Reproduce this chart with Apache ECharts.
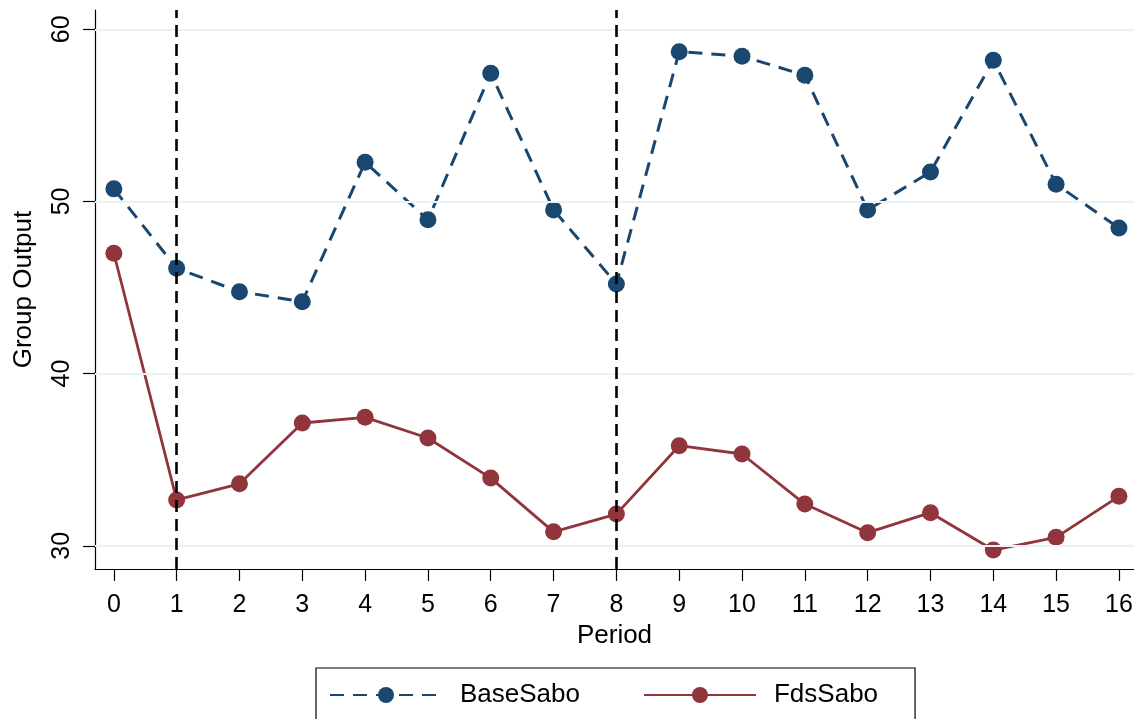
<!DOCTYPE html>
<html>
<head>
<meta charset="utf-8">
<style>
  html, body { margin: 0; padding: 0; background: #fff; }
  #chart { width: 1134px; height: 719px; }
</style>
<script src="https://cdn.jsdelivr.net/npm/echarts@6/dist/echarts.min.js"></script>
</head>
<body>
<div id="chart"></div>
<script>
// Group output by period for the two treatments
const periods = [0, 1, 2, 3, 4, 5, 6, 7, 8, 9, 10, 11, 12, 13, 14, 15, 16];
const baseSabo = [50.73, 46.12, 44.76, 44.18, 52.28, 48.93, 57.45, 49.51, 45.21, 58.70, 58.44, 57.33, 49.51, 51.71, 58.20, 51.00, 48.46];
const fdsSabo = [46.99, 32.66, 33.60, 37.13, 37.46, 36.26, 33.93, 30.81, 31.84, 35.81, 35.33, 32.42, 30.76, 31.92, 29.75, 30.49, 32.87];
const yTicks = [30, 40, 50, 60];
const phaseBreaks = [1, 8];

const seriesNames = ['BaseSabo', 'FdsSabo'];
const navy = '#1a476f';
const maroon = '#90353b';
const font = '"Liberation Sans", Arial, sans-serif';

const chart = echarts.init(document.getElementById('chart'), null, { renderer: 'canvas' });

const pairs = arr => periods.map((p, i) => [p, arr[i]]);

chart.setOption({
  animation: false,
  backgroundColor: '#fff',
  grid: { left: 95, right: 0, top: 10, bottom: 150, containLabel: false, outerBoundsMode: 'none' },
  xAxis: {
    type: 'value',
    min: -0.3,
    max: 16.24,
    name: 'Period',
    nameLocation: 'middle',
    nameGap: 50,
    nameTextStyle: { fontFamily: font, fontSize: 26, color: '#000' },
    axisLine: { show: true, onZero: false, lineStyle: { color: '#000', width: 1.2 } },
    axisTick: { show: true, length: 12, customValues: periods, lineStyle: { color: '#000', width: 1.2 } },
    axisLabel: { customValues: periods, margin: 24, fontFamily: font, fontSize: 25, color: '#000' },
    splitLine: { show: false }
  },
  yAxis: {
    type: 'value',
    min: 28.65,
    max: 61.12,
    name: 'Group Output',
    nameLocation: 'middle',
    nameGap: 58,
    nameRotate: 90,
    nameTextStyle: { fontFamily: font, fontSize: 26, color: '#000' },
    axisLine: { show: true, onZero: false, lineStyle: { color: '#000', width: 1.2 } },
    axisTick: { show: true, length: 12, customValues: yTicks, lineStyle: { color: '#000', width: 1.2 } },
    axisLabel: { customValues: yTicks, rotate: 90, margin: 20, fontFamily: font, fontSize: 25, color: '#000' },
    splitLine: { show: false }
  },
  legend: {
    data: seriesNames,
    left: 316,
    top: 668,
    orient: 'horizontal',
    padding: [14, 37, 40, 13],
    itemGap: 63,
    itemWidth: 112,
    itemHeight: 20,
    borderColor: '#000',
    borderWidth: 1.2,
    borderRadius: 0,
    textStyle: { fontFamily: font, fontSize: 26, color: '#000', padding: [0, 0, 0, 13] }
  },
  series: [
    {
      // reference lines: horizontal grid and vertical phase breaks
      name: 'guides',
      type: 'line',
      data: [],
      z: 1,
      silent: true,
      markLine: {
        silent: true,
        symbol: 'none',
        label: { show: false },
        animation: false,
        data: [
          ...yTicks.map(v => ({ yAxis: v, lineStyle: { color: '#eaf2f3', width: 2, type: 'solid' } })),
          ...phaseBreaks.map(v => ({ xAxis: v, lineStyle: { color: '#000', width: 2.6, type: [12, 7] } }))
        ]
      }
    },
    {
      name: 'BaseSabo',
      type: 'line',
      z: 3,
      data: pairs(baseSabo),
      symbol: 'circle',
      symbolSize: 17,
      itemStyle: { color: navy },
      lineStyle: { color: navy, width: 3, type: [14, 9] }
    },
    {
      name: 'FdsSabo',
      type: 'line',
      z: 3,
      data: pairs(fdsSabo),
      symbol: 'circle',
      symbolSize: 17,
      itemStyle: { color: maroon },
      lineStyle: { color: maroon, width: 2.8, type: 'solid' }
    }
  ]
});
</script>
</body>
</html>
